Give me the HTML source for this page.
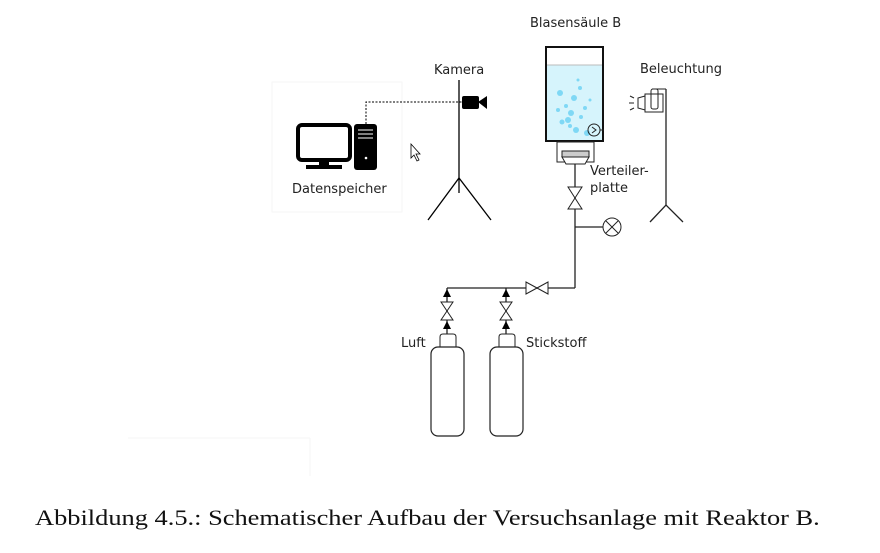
<!DOCTYPE html>
<html><head><style>
body{margin:0;background:#fff;width:880px;height:553px;overflow:hidden}
svg text{font-family:"DejaVu Sans","Liberation Sans",sans-serif;font-size:13px;fill:#222}
.cap{position:absolute;left:35px;top:505px;font-family:"Liberation Serif",serif;font-size:22px;color:#111;white-space:nowrap;transform:scaleX(1.2);transform-origin:0 0}
</style></head><body>
<svg width="880" height="553" style="position:absolute;left:0;top:0">
<rect x="272" y="82" width="130" height="130" fill="none" stroke="#f6f6f6"/>
<!-- computer -->
<rect x="298" y="125" width="52" height="35" rx="4" fill="none" stroke="#000" stroke-width="4"/>
<rect x="319" y="160" width="10" height="6" fill="#000"/>
<rect x="306" y="165" width="36" height="4" fill="#000"/>
<rect x="354" y="124" width="23" height="46" rx="3" fill="#000"/>
<line x1="358" y1="130" x2="373" y2="130" stroke="#fff"/><line x1="358" y1="134" x2="373" y2="134" stroke="#fff"/><line x1="358" y1="138" x2="373" y2="138" stroke="#fff"/>
<circle cx="366" cy="158" r="1.3" fill="#fff"/>
<text x="292" y="193">Datenspeicher</text>
<polyline points="366,124 366,102 462,102" fill="none" stroke="#000" stroke-dasharray="2,1.5"/>
<path d="M411 144 L411 158 L414 155 L417 161 L419 160 L416 154 L420 154 Z" fill="#fff" stroke="#000" stroke-width="0.8"/>
<!-- camera stand -->
<text x="434" y="74">Kamera</text>
<line x1="459" y1="80" x2="459" y2="193" stroke="#000" stroke-width="1.3"/>
<polyline points="428,220 459,178 491,220" fill="none" stroke="#000" stroke-width="1.3"/>
<rect x="462" y="96" width="17" height="13" rx="2" fill="#000"/>
<polygon points="478,102 487,96 487,109" fill="#000"/>
<!-- column -->
<text x="530" y="27">Blasensäule B</text>
<rect x="546" y="65" width="57" height="76" fill="#d6f4fc"/>
<line x1="546" y1="65" x2="603" y2="65" stroke="#bbb"/>
<g fill="#7fd8f5">
<circle cx="560" cy="93" r="3"/><circle cx="574" cy="98" r="3"/><circle cx="566" cy="106" r="2"/><circle cx="571" cy="113" r="3"/><circle cx="581" cy="117" r="2"/><circle cx="562" cy="122" r="2.5"/><circle cx="568" cy="120" r="3"/><circle cx="576" cy="130" r="3"/><circle cx="587" cy="133" r="3"/><circle cx="585" cy="108" r="2"/><circle cx="558" cy="110" r="2"/><circle cx="578" cy="80" r="1.5"/><circle cx="590" cy="100" r="1.5"/><circle cx="580" cy="88" r="2"/><circle cx="570" cy="126" r="2"/>
</g>
<rect x="546" y="47" width="57" height="94" fill="none" stroke="#111" stroke-width="2"/>
<circle cx="594" cy="130" r="6" fill="none" stroke="#222"/>
<polyline points="592,127 596,130 592,133" fill="none" stroke="#222"/>
<line x1="600" y1="130" x2="604" y2="130" stroke="#222"/>
<rect x="557" y="142" width="37" height="20" fill="none" stroke="#222"/>
<rect x="562" y="151" width="27" height="6" fill="#ccc" stroke="#222"/>
<polygon points="562,157 589,157 585,164 566,164" fill="#fff" stroke="#222"/>
<text x="590" y="175">Verteiler-</text>
<text x="590" y="192">platte</text>
<line x1="575" y1="164" x2="575" y2="288" stroke="#222" stroke-width="1.3"/>
<polygon points="568,187 582,187 575,198 568,209 582,209 575,198" fill="#fff" stroke="#222"/>
<line x1="575" y1="227" x2="603" y2="227" stroke="#222" stroke-width="1.3"/>
<circle cx="612" cy="227" r="9" fill="#fff" stroke="#222"/>
<line x1="606" y1="221" x2="618" y2="233" stroke="#222"/><line x1="618" y1="221" x2="606" y2="233" stroke="#222"/>
<!-- lighting -->
<text x="640" y="73">Beleuchtung</text>
<line x1="666" y1="89" x2="666" y2="205" stroke="#222" stroke-width="1.3"/>
<polyline points="650,222 666,205 683,222" fill="none" stroke="#222" stroke-width="1.3"/>
<line x1="652" y1="89" x2="666" y2="89" stroke="#222"/>
<rect x="651" y="89" width="7" height="20" rx="2" fill="none" stroke="#222"/>
<rect x="645" y="94" width="18" height="18" fill="none" stroke="#222"/>
<polygon points="645,96 638,98 638,108 645,110" fill="none" stroke="#222"/>
<line x1="634" y1="103" x2="629" y2="103" stroke="#222"/><line x1="634" y1="98" x2="630" y2="96" stroke="#222"/><line x1="634" y1="108" x2="630" y2="110" stroke="#222"/>
<!-- piping -->
<line x1="447" y1="288" x2="575" y2="288" stroke="#222" stroke-width="1.3"/>
<polygon points="526,282 526,294 537,288 548,282 548,294 537,288" fill="#fff" stroke="#222"/>
<g id="v1">
<line x1="447" y1="288" x2="447" y2="334" stroke="#222" stroke-width="1.3"/>
<polygon points="443,297 451,297 447,289" fill="#000"/>
<polygon points="441,302 453,302 447,311 441,320 453,320 447,311" fill="#fff" stroke="#222"/>
<polygon points="443,329 451,329 447,321" fill="#000"/>
<path d="M440 347 L440 337 Q440 334 443 334 L453 334 Q456 334 456 337 L456 347" fill="#fff" stroke="#222"/>
<rect x="431" y="347" width="33" height="89" rx="7" fill="#fff" stroke="#222" stroke-width="1.2"/>
</g>
<use href="#v1" x="59"/>
<text x="401" y="347">Luft</text>
<text x="526" y="347">Stickstoff</text>
<line x1="128" y1="438" x2="310" y2="438" stroke="#f6f6f6"/>
<line x1="310" y1="438" x2="310" y2="476" stroke="#f6f6f6"/>
</svg>
<div class="cap">Abbildung 4.5.: Schematischer Aufbau der Versuchsanlage mit Reaktor B.</div>
</body></html>
